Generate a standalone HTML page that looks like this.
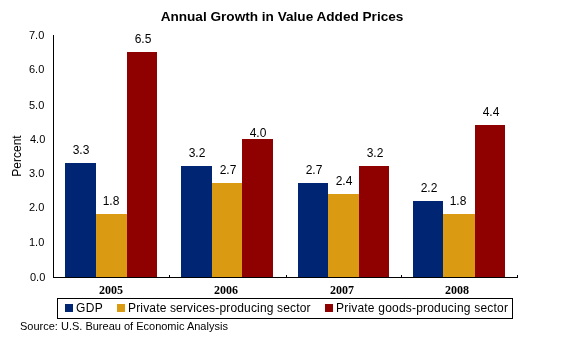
<!DOCTYPE html>
<html><head><meta charset="utf-8"><style>
html,body{margin:0;padding:0;background:#fff;}
body{width:564px;height:341px;position:relative;overflow:hidden;color:#000;font-family:"Liberation Sans",sans-serif;}
body>div{position:absolute;will-change:transform;}
</style></head><body>
<div style="left:0px;width:564px;top:7.5px;text-align:center;font:bold 13.6px/18px 'Liberation Sans',sans-serif">Annual Growth in Value Added Prices</div>
<div style="left:53px;top:35px;width:1px;height:243px;background:#000"></div>
<div style="left:53px;top:277px;width:465px;height:1px;background:#000"></div>
<div style="left:169px;top:275px;width:1px;height:2px;background:#000"></div>
<div style="left:286px;top:275px;width:1px;height:2px;background:#000"></div>
<div style="left:401px;top:275px;width:1px;height:2px;background:#000"></div>
<div style="left:517px;top:275px;width:1px;height:2px;background:#000"></div>
<div style="left:29.5px;width:45px;text-align:left;top:270px;font:11px/14px 'Liberation Sans',sans-serif">0.0</div>
<div style="left:29px;width:45px;text-align:left;top:235px;font:11px/14px 'Liberation Sans',sans-serif">1.0</div>
<div style="left:29px;width:45px;text-align:left;top:200px;font:11px/14px 'Liberation Sans',sans-serif">2.0</div>
<div style="left:29px;width:45px;text-align:left;top:166px;font:11px/14px 'Liberation Sans',sans-serif">3.0</div>
<div style="left:29.5px;width:45px;text-align:left;top:132px;font:11px/14px 'Liberation Sans',sans-serif">4.0</div>
<div style="left:29px;width:45px;text-align:left;top:98px;font:11px/14px 'Liberation Sans',sans-serif">5.0</div>
<div style="left:29px;width:45px;text-align:left;top:62px;font:11px/14px 'Liberation Sans',sans-serif">6.0</div>
<div style="left:29px;width:45px;text-align:left;top:28px;font:11px/14px 'Liberation Sans',sans-serif">7.0</div>
<div style="left:65px;top:163px;width:31px;height:114px;background:#002673"></div>
<div style="left:60.50px;width:40px;text-align:center;top:143px;font:12px/14px 'Liberation Sans',sans-serif">3.3</div>
<div style="left:96px;top:214px;width:31px;height:63px;background:#DA9B12"></div>
<div style="left:91.00px;width:40px;text-align:center;top:194px;font:12px/14px 'Liberation Sans',sans-serif">1.8</div>
<div style="left:127px;top:52px;width:30px;height:225px;background:#8F0000"></div>
<div style="left:122.50px;width:40px;text-align:center;top:32px;font:12px/14px 'Liberation Sans',sans-serif">6.5</div>
<div style="left:99.00px;width:50px;text-align:left;top:283px;font:bold 12px/14px 'Liberation Serif',serif">2005</div>
<div style="left:181px;top:166px;width:31px;height:111px;background:#002673"></div>
<div style="left:176.50px;width:40px;text-align:center;top:146px;font:12px/14px 'Liberation Sans',sans-serif">3.2</div>
<div style="left:212px;top:183px;width:30px;height:94px;background:#DA9B12"></div>
<div style="left:207.70px;width:40px;text-align:center;top:163px;font:12px/14px 'Liberation Sans',sans-serif">2.7</div>
<div style="left:242px;top:139px;width:31px;height:138px;background:#8F0000"></div>
<div style="left:238.00px;width:40px;text-align:center;top:126px;font:12px/14px 'Liberation Sans',sans-serif">4.0</div>
<div style="left:214.00px;width:50px;text-align:left;top:283px;font:bold 12px/14px 'Liberation Serif',serif">2006</div>
<div style="left:298px;top:183px;width:30px;height:94px;background:#002673"></div>
<div style="left:293.50px;width:40px;text-align:center;top:163px;font:12px/14px 'Liberation Sans',sans-serif">2.7</div>
<div style="left:328px;top:194px;width:31px;height:83px;background:#DA9B12"></div>
<div style="left:323.50px;width:40px;text-align:center;top:174px;font:12px/14px 'Liberation Sans',sans-serif">2.4</div>
<div style="left:359px;top:166px;width:30px;height:111px;background:#8F0000"></div>
<div style="left:354.50px;width:40px;text-align:center;top:146px;font:12px/14px 'Liberation Sans',sans-serif">3.2</div>
<div style="left:330.00px;width:50px;text-align:left;top:283px;font:bold 12px/14px 'Liberation Serif',serif">2007</div>
<div style="left:413px;top:201px;width:30px;height:76px;background:#002673"></div>
<div style="left:408.70px;width:40px;text-align:center;top:181px;font:12px/14px 'Liberation Sans',sans-serif">2.2</div>
<div style="left:443px;top:214px;width:32px;height:63px;background:#DA9B12"></div>
<div style="left:438.30px;width:40px;text-align:center;top:194px;font:12px/14px 'Liberation Sans',sans-serif">1.8</div>
<div style="left:475px;top:125px;width:30px;height:152px;background:#8F0000"></div>
<div style="left:470.70px;width:40px;text-align:center;top:105px;font:12px/14px 'Liberation Sans',sans-serif">4.4</div>
<div style="left:445.00px;width:50px;text-align:left;top:283px;font:bold 12px/14px 'Liberation Serif',serif">2008</div>
<div style="left:16.5px;top:156px;width:0;height:0"><div style="position:absolute;left:-40px;top:-7px;width:80px;text-align:center;transform:rotate(-90deg);font:12px/14px 'Liberation Sans',sans-serif">Percent</div></div>
<div style="left:57px;top:298px;width:454px;height:19px;border:1px solid #000;box-sizing:content-box"></div>
<div style="left:65px;top:304px;width:8px;height:8px;background:#002673"></div>
<div style="left:117px;top:304px;width:8px;height:8px;background:#DA9B12"></div>
<div style="left:325px;top:304px;width:8px;height:8px;background:#8F0000"></div>
<div style="left:76px;top:301px;font:12px/14px 'Liberation Sans',sans-serif;white-space:nowrap;letter-spacing:0.4px">GDP</div>
<div style="left:128px;top:301px;font:12px/14px 'Liberation Sans',sans-serif;white-space:nowrap;letter-spacing:0.16px">Private services-producing sector</div>
<div style="left:336px;top:301px;font:12px/14px 'Liberation Sans',sans-serif;white-space:nowrap;letter-spacing:0.2px">Private goods-producing sector</div>
<div style="left:19.7px;top:319px;font:11px/14px 'Liberation Sans',sans-serif;white-space:nowrap">Source: U.S. Bureau of Economic Analysis</div>
</body></html>
